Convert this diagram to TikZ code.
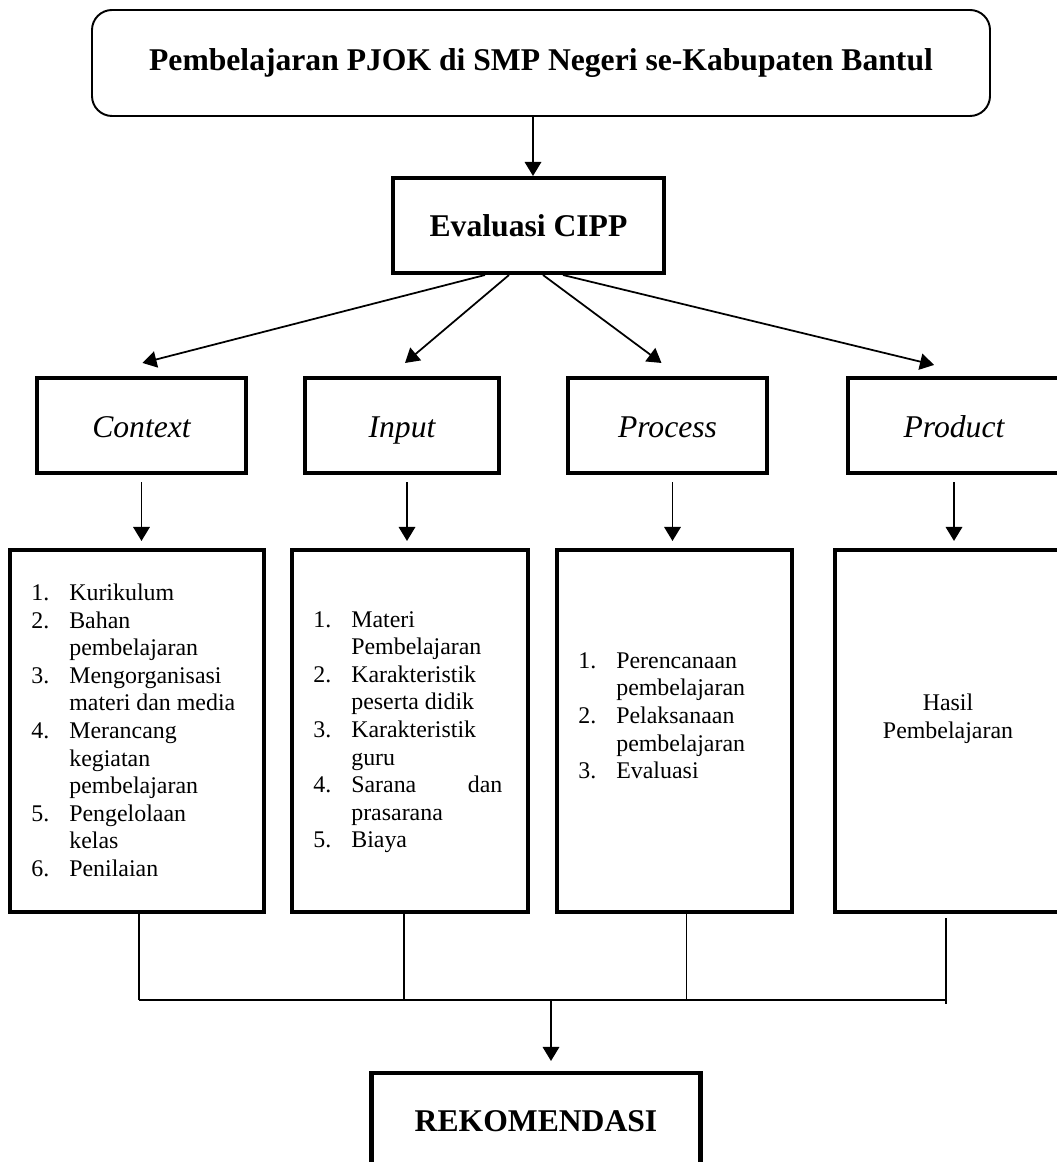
\documentclass[tikz,border=0pt]{standalone}
\usepackage{fontspec}
\setmainfont{Liberation Serif}
\usetikzlibrary{arrows.meta}
\newcommand{\listfont}{\fontsize{13.6}{15.7}\selectfont}
\newcommand{\headfont}{\fontsize{18}{21}\selectfont}

\begin{document}
\begin{tikzpicture}[
  kotak/.style={draw, line width=2.3pt, inner sep=0pt},
  komponen/.style={kotak, minimum height=1.9cm, font=\headfont\itshape, text height=15pt, text depth=1.4pt},
  isi/.style={inner sep=0pt, font=\listfont, anchor=west},
  panah/.style={-{Triangle[length=0.28cm,width=0.33cm]}, line width=1pt},
  garis/.style={line width=0.7pt}
]
\useasboundingbox (0,0) rectangle (21.14,23.24);
% judul
\node[draw, line width=1.1pt, rounded corners=0.4cm, minimum width=17.96cm, minimum height=2.12cm, font=\headfont\bfseries] (top) at (10.82,21.98) {Pembelajaran PJOK di SMP Negeri se-Kabupaten Bantul};
% Evaluasi CIPP
\node[kotak, minimum width=5.42cm, minimum height=1.9cm, font=\headfont\bfseries] (cipp) at (10.57,18.73) {Evaluasi CIPP};
\draw[panah] ([xshift=0.09cm]cipp.north |- top.south) -- ([xshift=0.09cm]cipp.north);
% komponen CIPP
\node[komponen, minimum width=4.18cm] (context) at (2.83,14.73) {Context};
\node[komponen, minimum width=3.88cm] (input) at (8.04,14.73) {Input};
\node[komponen, minimum width=3.98cm] (process) at (13.35,14.73) {Process};
\node[komponen, minimum width=4.24cm] (product) at (19.08,14.73) {Product};
\draw[panah] ([xshift=-0.87cm]cipp.south) -- ([xshift=0.02cm,yshift=0.26cm]context.north);
\draw[panah] ([xshift=-0.39cm]cipp.south) -- ([xshift=0.06cm,yshift=0.26cm]input.north);
\draw[panah] ([xshift=0.29cm]cipp.south) -- ([xshift=-0.12cm,yshift=0.26cm]process.north);
\draw[panah] ([xshift=0.69cm]cipp.south) -- ([xshift=-0.4cm,yshift=0.22cm]product.north);
% kotak isi
\node[kotak, minimum width=5.08cm, minimum height=7.24cm] (klist) at (2.74,8.62) {};
\node[kotak, minimum width=4.72cm, minimum height=7.24cm] (ilist) at (8.2,8.62) {};
\node[kotak, minimum width=4.7cm, minimum height=7.24cm] (prlist) at (13.49,8.62) {};
\node[kotak, minimum width=4.76cm, minimum height=7.24cm] (pdlist) at (19.08,8.62) {};
\draw[panah, shorten <=0.14cm, shorten >=0.14cm] (context.south) -- (context.south |- klist.north);
\draw[panah, shorten <=0.14cm, shorten >=0.14cm] ([xshift=0.1cm]input.south) -- ([xshift=0.1cm]input.south |- ilist.north);
\draw[panah, shorten <=0.14cm, shorten >=0.14cm] ([xshift=0.1cm]process.south) -- ([xshift=0.1cm]process.south |- prlist.north);
\draw[panah, shorten <=0.14cm, shorten >=0.14cm] (product.south) -- (product.south |- pdlist.north);
% daftar
\node[isi] (ktxt) at ([xshift=0.46cm,yshift=-0.04cm]klist.west) {\begin{tabular}{@{}p{0.76cm}@{}l@{}}
1. & Kurikulum\\
2. & Bahan\\
   & pembelajaran\\
3. & Mengorganisasi\\
   & materi dan media\\
4. & Merancang\\
   & kegiatan\\
   & pembelajaran\\
5. & Pengelolaan\\
   & kelas\\
6. & Penilaian
\end{tabular}};
\node[isi] (itxt) at ([xshift=0.46cm,yshift=-0.02cm]ilist.west) {\begin{tabular}{@{}p{0.76cm}@{}l@{}}
1. & Materi\\
   & Pembelajaran\\
2. & Karakteristik\\
   & peserta didik\\
3. & Karakteristik\\
   & guru\\
4. & \makebox[3.02cm][l]{Sarana\hfill dan}\\
   & prasarana\\
5. & Biaya
\end{tabular}};
\node[isi] (prtxt) at ([xshift=0.46cm,yshift=0.26cm]prlist.west) {\begin{tabular}{@{}p{0.76cm}@{}l@{}}
1. & Perencanaan\\
   & pembelajaran\\
2. & Pelaksanaan\\
   & pembelajaran\\
3. & Evaluasi
\end{tabular}};
\node[font=\listfont, align=center, inner sep=0pt] (pdtxt) at ([xshift=-0.12cm,yshift=0.24cm]pdlist.center) {Hasil\\Pembelajaran};
% garis penghubung
\coordinate (bus) at (11.02,3.24);
\draw[garis] ([xshift=0.04cm]klist.south) -- ([xshift=0.04cm]klist.south |- bus);
\draw[garis] ([xshift=-0.12cm]ilist.south) -- ([xshift=-0.12cm]ilist.south |- bus);
\draw[garis] ([xshift=0.24cm]prlist.south) -- ([xshift=0.24cm]prlist.south |- bus);
\draw[garis] ([xshift=-0.16cm,yshift=-0.08cm]pdlist.south) -- ([xshift=-0.16cm,yshift=-0.08cm]pdlist.south |- bus);
\draw[garis] ([xshift=0.04cm]klist.south |- bus) -- ([xshift=-0.16cm]pdlist.south |- bus);
% rekomendasi
\node[kotak, minimum width=6.58cm, minimum height=1.92cm, font=\headfont\bfseries] (rekom) at (10.72,0.82) {REKOMENDASI};
\draw[panah, shorten >=0.2cm] (bus) -- (bus |- rekom.north);
\end{tikzpicture}
\end{document}
